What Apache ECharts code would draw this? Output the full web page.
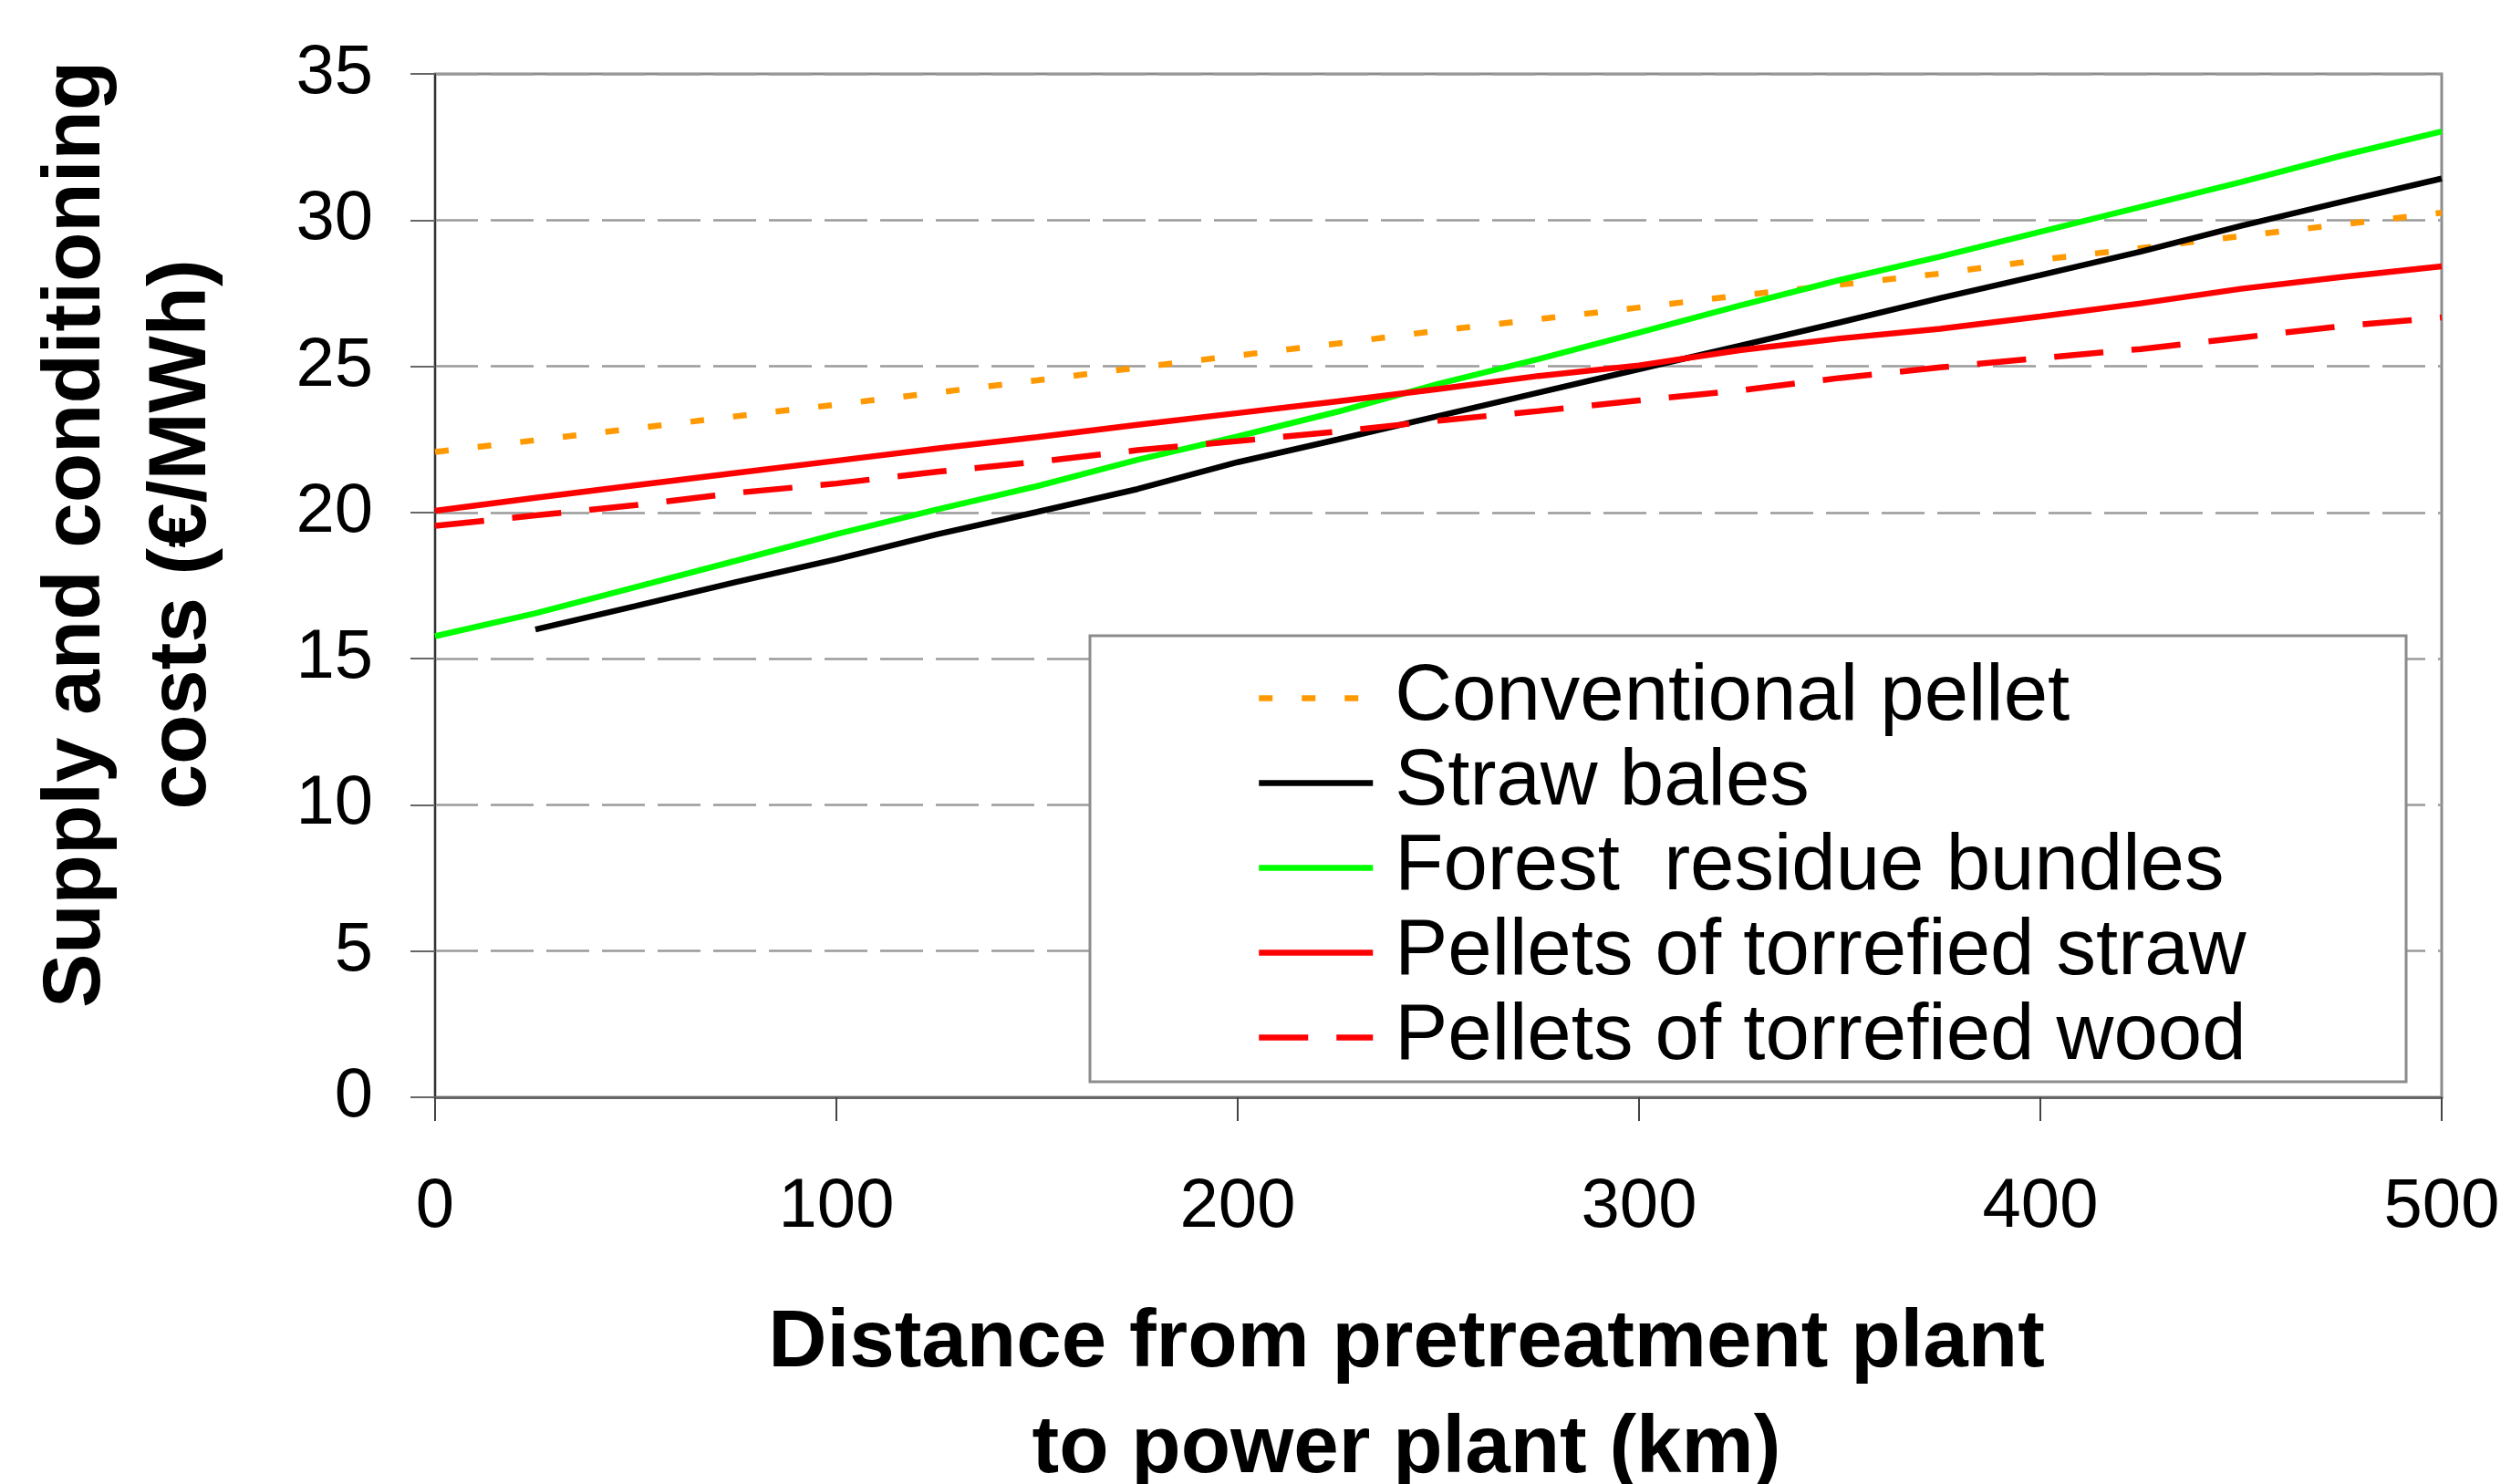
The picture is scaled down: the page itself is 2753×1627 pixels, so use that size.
<!DOCTYPE html>
<html>
<head>
<meta charset="utf-8">
<script src="https://cdn.jsdelivr.net/npm/echarts@6/dist/echarts.min.js"></script>
<style>
html,body{margin:0;padding:0;background:#fff;}
#chart{width:2753px;height:1627px;}
</style>
</head>
<body>
<div id="chart"></div>
<script>
// ---- data ----
const distanceKm = [0,25,50,75,100,125,150,175,200,225,250,275,300,325,350,375,400,425,450,475,500];
const conventionalPellet = [22.07,22.47,22.88,23.29,23.69,24.1,24.52,24.95,25.37,25.78,26.22,26.61,27.01,27.42,27.79,28.17,28.64,29.04,29.45,29.85,30.25];
const strawBales = [null,16.0,16.8,17.62,18.4,19.25,20.02,20.8,21.72,22.5,23.3,24.1,24.9,25.7,26.5,27.33,28.12,28.92,29.8,30.62,31.42];
const forestResidueBundles = [15.77,16.55,17.45,18.35,19.26,20.1,20.9,21.8,22.6,23.45,24.4,25.25,26.15,27.07,27.95,28.75,29.6,30.45,31.3,32.2,33.03];
const torrefiedStraw = [20.06,20.5,20.93,21.35,21.77,22.19,22.58,23.0,23.4,23.8,24.22,24.67,25.03,25.55,25.95,26.28,26.7,27.15,27.65,28.05,28.42];
const torrefiedWood = [19.54,19.9,20.25,20.67,20.99,21.39,21.73,22.13,22.44,22.77,23.14,23.47,23.83,24.17,24.6,24.96,25.28,25.59,25.98,26.37,26.67];
const seriesNames = ['Conventional pellet','Straw bales','Forest  residue bundles','Pellets of torrefied straw','Pellets of torrefied wood'];
const xTitle = 'Distance from pretreatment plant\nto power plant (km)';
const yTitle = 'Supply and conditioning\ncosts (€/MWh)';

const FONT = "'Liberation Sans', Arial, sans-serif";
const pairs = arr => distanceKm.map((d,i) => [d, arr[i]]);

const chart = echarts.init(document.getElementById('chart'), null, {renderer:'canvas'});
const mk = (name, arr, color, type) => ({
  name, type:'line', data: pairs(arr), symbol:'none', color,
  connectNulls:false, z:2,
  lineStyle:{color, width:6.5, type}
});

chart.setOption({
  backgroundColor:'#ffffff',
  animation:false,
  grid:{left:477, top:81, width:2200, height:1122, containLabel:false, outerBoundsMode:'none',
        show:true, borderColor:'#8c8c8c', borderWidth:3, backgroundColor:'transparent'},
  xAxis:{
    type:'value', min:0, max:500, interval:100,
    name:xTitle, nameLocation:'middle', nameGap:212,
    nameTextStyle:{fontFamily:FONT, fontWeight:'bold', fontSize:89, lineHeight:116, color:'#000', padding:[0,70,0,0]},
    axisLine:{show:true, onZero:false, lineStyle:{color:'#666', width:3}},
    axisTick:{show:true, length:26, lineStyle:{color:'#444', width:2}},
    axisLabel:{margin:83, fontSize:76, color:'#000', fontFamily:FONT},
    splitLine:{show:false}
  },
  yAxis:{
    type:'value', min:0, max:35, interval:5,
    name:yTitle, nameLocation:'middle', nameRotate:90, nameGap:219,
    nameTextStyle:{fontFamily:FONT, fontWeight:'bold', fontSize:89, lineHeight:116, color:'#000', padding:[0,0,0,112]},
    axisLine:{show:true, lineStyle:{color:'#333', width:2}},
    axisTick:{show:true, length:27, lineStyle:{color:'#666', width:2}},
    axisLabel:{margin:68, fontSize:76, color:'#000', fontFamily:FONT},
    splitLine:{show:true, lineStyle:{color:'#9a9a9a', width:2.5, type:[47,14]}}
  },
  graphic:[{
    type:'rect', z:3,
    shape:{x:1195, y:697, width:1443, height:489},
    style:{fill:'#fff', stroke:'#8c8c8c', lineWidth:3}
  }],
  legend:{
    orient:'vertical', left:1377, top:719, z:4,
    itemWidth:125, itemHeight:20, itemGap:0, padding:0,
    itemStyle:{opacity:0},
    lineStyle:{width:6.5},
    textStyle:{fontFamily:FONT, fontSize:87, lineHeight:93, color:'#000', padding:[0,0,0,19]},
    data:seriesNames
  },
  series:[
    mk(seriesNames[0], conventionalPellet, '#ff9900', [15,32]),
    mk(seriesNames[1], strawBales, '#000000', 'solid'),
    mk(seriesNames[2], forestResidueBundles, '#00ff00', 'solid'),
    mk(seriesNames[3], torrefiedStraw, '#ff0000', 'solid'),
    mk(seriesNames[4], torrefiedWood, '#ff0000', [54,31])
  ]
});
</script>
</body>
</html>
